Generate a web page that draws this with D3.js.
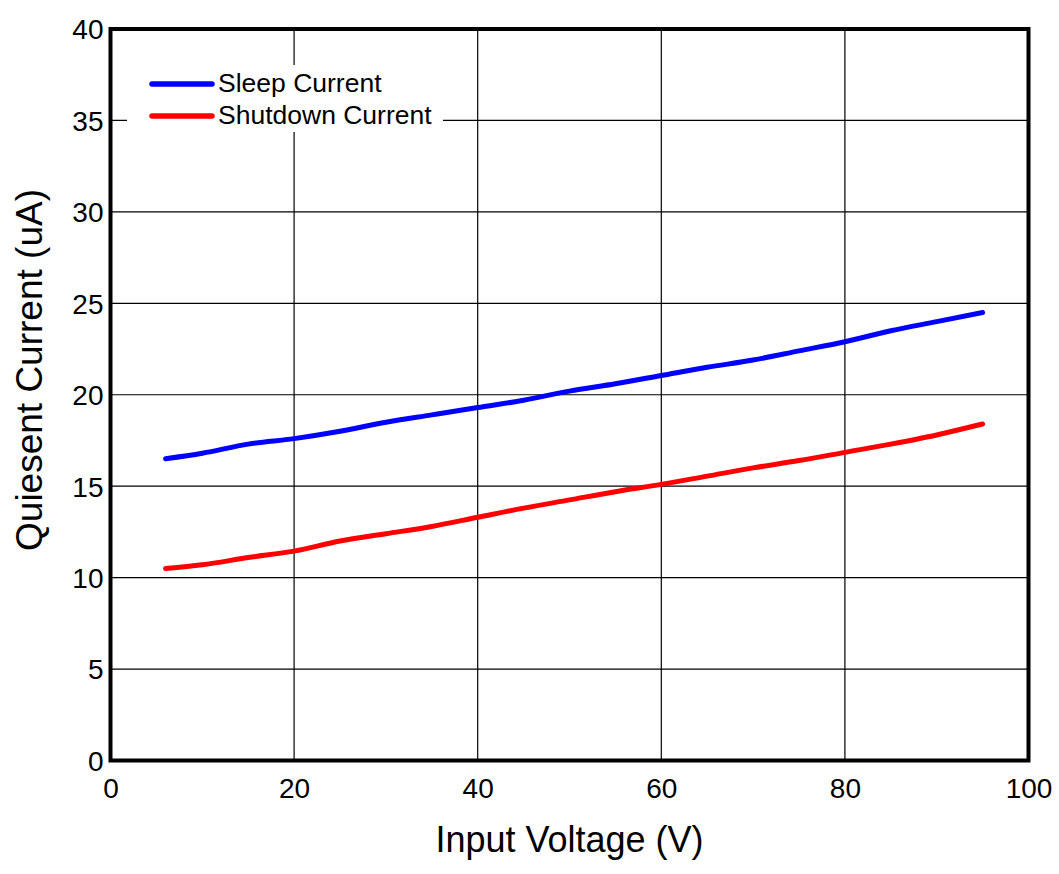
<!DOCTYPE html>
<html>
<head>
<meta charset="utf-8">
<script src="https://cdn.jsdelivr.net/npm/d3@7"></script>
<style>
  html, body { margin: 0; padding: 0; background: #fff; }
  svg { display: block; font-family: "Liberation Sans", Arial, sans-serif; }
</style>
</head>
<body>
<svg id="chart" width="1059" height="874"></svg>
<script>
const voltage = [6, 10, 15, 20, 25, 30, 35, 40, 45, 50, 55, 60, 65, 70, 75, 80, 85, 90, 95];
const sleepCurrent = [16.5, 16.8, 17.3, 17.6, 18.0, 18.5, 18.9, 19.3, 19.7, 20.2, 20.6, 21.05, 21.5, 21.9, 22.4, 22.9, 23.5, 24.0, 24.5];
const shutdownCurrent = [10.5, 10.7, 11.1, 11.45, 12.0, 12.4, 12.8, 13.3, 13.8, 14.25, 14.7, 15.1, 15.55, 16.0, 16.4, 16.85, 17.3, 17.8, 18.4];
const xTicks = [0, 20, 40, 60, 80, 100];
const yTicks = [0, 5, 10, 15, 20, 25, 30, 35, 40];
const seriesNames = ["Sleep Current", "Shutdown Current"];
const seriesColors = ["#0000ff", "#ff0000"];
const xTitle = "Input Voltage (V)";
const yTitle = "Quiesent Current (uA)";

const svg = d3.select("#chart");
const m = { left: 110.5, right: 1028.5, top: 29, bottom: 760.5 };
const x = d3.scaleLinear().domain([0, 100]).range([m.left, m.right]);
const y = d3.scaleLinear().domain([0, 40]).range([m.bottom, m.top]);

// grid
const grid = svg.append("g");
grid.selectAll("line.v").data(xTicks.slice(1, -1)).join("line")
  .attr("x1", d => x(d)).attr("x2", d => x(d))
  .attr("y1", m.top).attr("y2", m.bottom)
  .attr("stroke", "#000").attr("stroke-width", 1.2);
grid.selectAll("line.h").data(yTicks.slice(1, -1)).join("line")
  .attr("x1", m.left).attr("x2", m.right)
  .attr("y1", d => y(d)).attr("y2", d => y(d))
  .attr("stroke", "#000").attr("stroke-width", 1.2);

// axes (labels only)
const xAxis = svg.append("g").attr("transform", `translate(0,${m.bottom})`)
  .call(d3.axisBottom(x).tickValues(xTicks).tickSize(0).tickPadding(0));
xAxis.select(".domain").remove();
xAxis.selectAll("text").attr("font-size", 28).attr("font-family", "Liberation Sans, Arial, sans-serif")
  .attr("fill", "#000").attr("dy", null).attr("y", 37);

const yAxis = svg.append("g").attr("transform", `translate(${m.left},0)`)
  .call(d3.axisLeft(y).tickValues(yTicks).tickSize(0).tickPadding(0));
yAxis.select(".domain").remove();
yAxis.selectAll("text").attr("font-size", 28).attr("font-family", "Liberation Sans, Arial, sans-serif")
  .attr("fill", "#000").attr("x", -7).attr("dy", "0.35em");

// legend box (white, covers gridlines)
svg.append("rect").attr("x", 127).attr("y", 65).attr("width", 316).attr("height", 67).attr("fill", "#fff");

// lines
const line = d3.line().curve(d3.curveMonotoneX);
[sleepCurrent, shutdownCurrent].forEach((vals, i) => {
  svg.append("path")
    .attr("d", line(voltage.map((v, j) => [x(v), y(vals[j])])))
    .attr("fill", "none").attr("stroke", seriesColors[i])
    .attr("stroke-width", 5).attr("stroke-linecap", "round");
});

// frame
svg.append("rect").attr("x", m.left).attr("y", m.top)
  .attr("width", m.right - m.left).attr("height", m.bottom - m.top)
  .attr("fill", "none").attr("stroke", "#000").attr("stroke-width", 4);

// legend
const lg = svg.append("g");
seriesNames.forEach((name, i) => {
  const ly = 84 + i * 32;
  lg.append("line").attr("x1", 152).attr("x2", 212).attr("y1", ly).attr("y2", ly)
    .attr("stroke", seriesColors[i]).attr("stroke-width", 5.5).attr("stroke-linecap", "round");
  lg.append("text").attr("x", 218).attr("y", ly + 8).attr("font-size", 26.5).attr("fill", "#000").text(name);
});

// titles
svg.append("text").attr("x", (m.left + m.right) / 2).attr("y", 852)
  .attr("text-anchor", "middle").attr("font-size", 36).attr("fill", "#000").text(xTitle);
svg.append("text").attr("transform", `translate(42,370) rotate(-90)`)
  .attr("text-anchor", "middle").attr("font-size", 37).attr("fill", "#000").text(yTitle);
</script>
</body>
</html>
